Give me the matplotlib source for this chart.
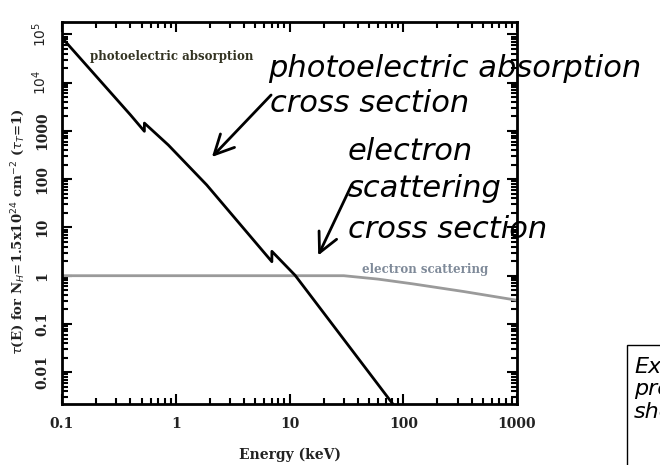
import matplotlib
matplotlib.use("Agg")
import matplotlib.pyplot as plt
from matplotlib.font_manager import FontProperties
from matplotlib.patches import Rectangle, FancyArrowPatch
from matplotlib.ticker import LogLocator, NullFormatter, FixedLocator, FixedFormatter

# Photoelectric absorption optical depth (edges drawn as repeated energies)
pe_energy = [0.1, 0.40, 0.53, 0.53, 0.86, 1.87, 7.0, 7.0, 11.2, 14.1, 81]
pe_tau = [85000, 2140, 980, 1450, 510, 76, 1.95, 3.2, 1.02, 0.50, 0.0022]

# Electron (Thomson / Klein-Nishina) scattering optical depth
es_energy = [0.1, 30, 60, 120, 340, 1000]
es_tau = [1.0, 1.0, 0.85, 0.68, 0.47, 0.31]

x_ticks = [0.1, 1, 10, 100, 1000]
x_ticklabels = ["0.1", "1", "10", "100", "1000"]
y_ticks = [0.01, 0.1, 1, 10, 100, 1000, 1e4, 1e5]
y_ticklabels = ["0.01", "0.1", "1", "10", "100", "1000", "$10^4$", "$10^5$"]

W, H = 660, 465
fig = plt.figure(figsize=(W / 100, H / 100), dpi=100)
ax = fig.add_axes([62 / W, 1 - 404 / H, (517 - 62) / W, (404 - 22) / H])

ax.plot(es_energy, es_tau, color="#9a9a9a", lw=2.0, zorder=2)
ax.plot(pe_energy, pe_tau, color="black", lw=2.0, zorder=3)

ax.set_xscale("log")
ax.set_yscale("log")
ax.set_xlim(0.1, 1000)
ax.set_ylim(0.0022, 1.8e5)

serif = dict(family="DejaVu Serif", weight="bold")
ax.xaxis.set_major_locator(FixedLocator(x_ticks))
ax.xaxis.set_major_formatter(FixedFormatter(x_ticklabels))
ax.yaxis.set_major_locator(FixedLocator(y_ticks))
ax.yaxis.set_major_formatter(FixedFormatter(y_ticklabels))
ax.xaxis.set_minor_locator(LogLocator(base=10, subs=range(2, 10), numticks=20))
ax.yaxis.set_minor_locator(LogLocator(base=10, subs=range(2, 10), numticks=20))
ax.xaxis.set_minor_formatter(NullFormatter())
ax.yaxis.set_minor_formatter(NullFormatter())

ax.tick_params(which="both", direction="in", top=True, right=True, width=1.5)
ax.tick_params(which="major", length=7, pad=9)
ax.tick_params(which="minor", length=4)
for lab in ax.get_xticklabels():
    lab.set_fontproperties(FontProperties(**serif, size=10))
    lab.set_color("#222222")
for lab in ax.get_yticklabels():
    lab.set_fontproperties(FontProperties(**serif, size=10))
    lab.set_rotation(90)
    lab.set_va("center")
    lab.set_color("#222222")
for s in ax.spines.values():
    s.set_linewidth(2)

ax.set_xlabel("Energy (keV)", fontdict=dict(**serif, size=10), color="#222222", labelpad=12)
ax.set_ylabel(r"$\tau$(E) for N$_H$=1.5x10$^{24}$ cm$^{-2}$ ($\tau_T$=1)",
              fontdict=dict(**serif, size=9.5), color="#222222")
ax.yaxis.set_label_coords(-0.078, 0.45)

# curve labels inside the frame
ax.text((172 - 62) / 455, 1 - (56 - 22) / 382, "photoelectric absorption",
        transform=ax.transAxes, ha="center", va="center", color="#333322",
        fontdict=dict(**serif, size=8.5))
ax.text((425 - 62) / 455, 1 - (270 - 22) / 382, "electron scattering",
        transform=ax.transAxes, ha="center", va="center", color="#7f8a99",
        fontdict=dict(**serif, size=8.5))


def fx(px):
    return px / W


def fy(py):
    return 1 - py / H


# overlaid explanatory annotations, one text per line
note = dict(family="DejaVu Sans", style="italic", size=22, color="black",
            ha="left", va="baseline")
for x, y, s in [(268, 77, "photoelectric absorption"), (270, 112, "cross section"),
                (348, 160, "electron"), (348, 197, "scattering"),
                (348, 238, "cross section")]:
    fig.text(fx(x), fy(y), s, **note)

for (x0, y0), (x1, y1) in [((273, 93), (210, 159)), ((353, 182), (317, 258))]:
    fig.patches.append(FancyArrowPatch((fx(x0), fy(y0)), (fx(x1), fy(y1)),
                                       transform=fig.transFigure,
                                       arrowstyle="->,head_length=0.7,head_width=0.35",
                                       mutation_scale=20, color="black", lw=2))

fig.patches.append(Rectangle((fx(627), fy(465) - 0.1), 0.3, fy(345) - fy(465) + 0.1,
                             transform=fig.transFigure, facecolor="white",
                             edgecolor="black", lw=1))
box_note = dict(family="DejaVu Sans", style="italic", size=16, color="black",
                ha="left", va="baseline")
for y, s in [(373, "Exercise"), (395, "prove"), (418, "show")]:
    fig.text(fx(634), fy(y), s, **box_note)

fig.savefig("out.png", dpi=100)
